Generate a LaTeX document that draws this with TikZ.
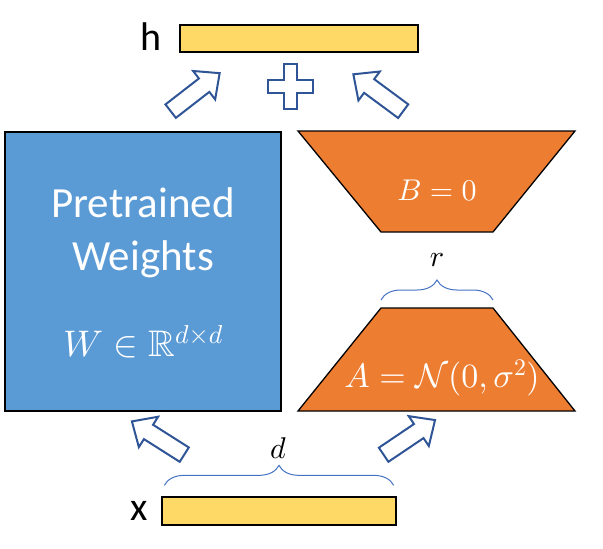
\documentclass[tikz,border=0pt]{standalone}
\usepackage{amsmath,amssymb}
\usepackage{fontspec}
\setmainfont{Carlito}
\usetikzlibrary{shapes.arrows,decorations.pathreplacing}

% math fonts at any size
\DeclareFontShape{OT1}{cmr}{m}{n}{<-> cmr10}{}
\DeclareFontShape{OML}{cmm}{m}{it}{<-> cmmi10}{}
\DeclareFontShape{OMS}{cmsy}{m}{n}{<-> cmsy10}{}
\DeclareFontShape{OMX}{cmex}{m}{n}{<-> cmex10}{}
\DeclareFontFamily{U}{msb}{}
\DeclareFontShape{U}{msb}{m}{n}{<-> msbm10}{}

\definecolor{wblue}{HTML}{5B9BD5}
\definecolor{lorange}{HTML}{ED7D31}
\definecolor{vecyellow}{HTML}{FFD966}
\definecolor{arrowblue}{HTML}{2F5597}
\definecolor{braceblue}{HTML}{4472C4}

\tikzset{
	vecbar/.style={draw, line width=1.3pt, fill=vecyellow, minimum height=27pt, inner sep=0pt},
	flowarrow/.style={single arrow, draw=arrowblue, line width=2pt, fill=white,
		minimum height=62pt, inner xsep=0pt, inner ysep=7.5pt,
		single arrow head extend=9.5pt, single arrow tip angle=85},
	lorablock/.style={draw, line width=1.3pt, fill=lorange, line join=miter},
	sizebrace/.style={draw=braceblue, line width=1pt, decorate, decoration={brace, amplitude=20pt}},
}

\begin{document}
\begin{tikzpicture}[x=1pt, y=-1pt]
	\useasboundingbox (0,0) rectangle (603,549);

	\coordinate (btl) at (298,131);
	\coordinate (btr) at (575,131);
	\coordinate (bbr) at (493,232);
	\coordinate (bbl) at (381,232);
	\coordinate (atl) at (381,308);
	\coordinate (atr) at (493,308);
	\coordinate (abr) at (575,411);
	\coordinate (abl) at (298,411);

	% input and output vectors
	\node [vecbar, minimum width=238pt] (h) at (299,38.5) {};
	\node [font=\fontsize{40}{48}\selectfont] (hlabel) at (151,37) {h};
	\node [vecbar, minimum width=234pt, minimum height=28pt] (x) at (279,511) {};
	\node [font=\fontsize{40}{48}\selectfont] (xlabel) at (139,511) {x};

	% pretrained weights
	\node [draw, line width=1.3pt, fill=wblue, minimum width=276pt, minimum height=279pt] (W) at (143,271.5) {};
	\node [text=white, align=center, font=\fontsize{43}{53}\selectfont] (wname) at (143,232.5)
		{Pretrained\\Weights};
	\node [text=white, font=\fontsize{37}{44}\selectfont] (wdim) at (143,342)
		{$W \in \mathbb{R}^{d\times d}$};

	% low rank blocks
	\draw [lorablock] (btl) -- (btr) -- (bbr) -- (bbl) -- cycle;
	\node [text=white, font=\fontsize{30}{36}\selectfont] (bzero) at (437,190) {$B = 0$};
	\draw [lorablock] (atl) -- (atr) -- (abr) -- (abl) -- cycle;
	\node [text=white, font=\fontsize{34}{40}\selectfont] (anorm) at (442,378)
		{$A = \mathcal{N}(0,\sigma^2)$};

	% sizes
	\draw [sizebrace] ([yshift=8pt]atl) -- ([yshift=8pt]atr);
	\node [font=\fontsize{30}{36}\selectfont] (r) at (437,260) {$r$};
	\draw [sizebrace] ([xshift=3pt, yshift=11pt]x.north west) -- ([xshift=-3pt, yshift=11pt]x.north east);
	\node [font=\fontsize{30}{36}\selectfont] (d) at (278,448) {$d$};

	% flow
	\node [flowarrow, rotate=37.8] (wout) at (191.5,95) {};
	\node [flowarrow, rotate=143.5] (bout) at (382,95.5) {};
	\node [flowarrow, rotate=147.6] (win) at (162,440.5) {};
	\node [flowarrow, rotate=34] (ain) at (405.5,440) {};

	% plus
	\draw [arrowblue, line width=2pt, fill=white, shift={(290.5,86)}]
		(-6.5,-22.5) -- (6.5,-22.5) -- (6.5,-6.5) -- (22.5,-6.5) -- (22.5,6.5) -- (6.5,6.5)
		-- (6.5,22.5) -- (-6.5,22.5) -- (-6.5,6.5) -- (-22.5,6.5) -- (-22.5,-6.5) -- (-6.5,-6.5) -- cycle;
\end{tikzpicture}
\end{document}
